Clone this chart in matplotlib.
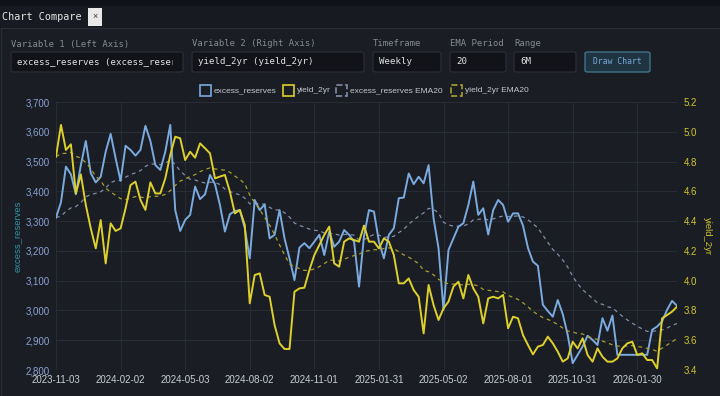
import pandas as pd
import matplotlib.pyplot as plt
from matplotlib.patches import Rectangle, FancyBboxPatch

# weekly values
start_date = "2023-11-03"
excess_reserves = [
    3312, 3363, 3483, 3457, 3390, 3488, 3569, 3461, 3430, 3449,
    3533, 3593, 3511, 3435, 3553, 3539, 3520, 3539, 3620, 3569,
    3488, 3472, 3533, 3623, 3337, 3267, 3304, 3321, 3416, 3374,
    3390, 3455, 3424, 3354, 3265, 3323, 3334, 3337, 3276, 3175,
    3371, 3337, 3356, 3242, 3254, 3337, 3242, 3175, 3102, 3211,
    3226, 3209, 3231, 3254, 3186, 3265, 3214, 3231, 3270, 3254,
    3231, 3080, 3250, 3337, 3332, 3231, 3175, 3254, 3276, 3377,
    3379, 3460, 3424, 3449, 3427, 3488, 3309, 3209, 3002, 3203,
    3242, 3281, 3293, 3354, 3433, 3321, 3343, 3255, 3337, 3371,
    3354, 3298, 3326, 3326, 3285, 3210, 3164, 3150, 3019, 2998,
    2979, 3035, 2988, 2918, 2823, 2851, 2879, 2915, 2901, 2884,
    2974, 2932, 2983, 2851, 2851, 2851, 2851, 2851, 2851, 2851,
    2935, 2946, 2963, 3002, 3032, 3016,
]
yield_2yr = [
    4.833, 5.046, 4.878, 4.916, 4.586, 4.714, 4.508, 4.351, 4.217, 4.407,
    4.116, 4.385, 4.334, 4.351, 4.486, 4.642, 4.665, 4.542, 4.475, 4.660,
    4.586, 4.586, 4.687, 4.844, 4.967, 4.956, 4.810, 4.866, 4.826, 4.922,
    4.889, 4.855, 4.687, 4.699, 4.710, 4.598, 4.452, 4.475, 4.374, 3.848,
    4.038, 4.049, 3.904, 3.892, 3.702, 3.579, 3.541, 3.541, 3.926, 3.948,
    3.953, 4.071, 4.172, 4.239, 4.307, 4.363, 4.116, 4.094, 4.262, 4.284,
    4.273, 4.262, 4.370, 4.262, 4.262, 4.217, 4.284, 4.262, 4.172, 3.982,
    3.982, 4.015, 3.937, 3.892, 3.646, 3.971, 3.836, 3.736, 3.814, 3.859,
    3.960, 3.993, 3.881, 4.038, 3.948, 3.892, 3.713, 3.881, 3.892, 3.881,
    3.904, 3.680, 3.758, 3.747, 3.635, 3.568, 3.505, 3.557, 3.568, 3.624,
    3.579, 3.523, 3.456, 3.478, 3.590, 3.545, 3.613, 3.501, 3.456, 3.545,
    3.489, 3.456, 3.456, 3.478, 3.545, 3.579, 3.590, 3.501, 3.512, 3.467,
    3.467, 3.411, 3.747, 3.769, 3.792, 3.825,
]
ema_period = 20
left_ticks = [2800, 2900, 3000, 3100, 3200, 3300, 3400, 3500, 3600, 3700]
right_ticks = [3.4, 3.6, 3.8, 4.0, 4.2, 4.4, 4.6, 4.8, 5.0, 5.2]

dates = pd.date_range(start_date, periods=len(excess_reserves), freq="7D")
df = pd.DataFrame({"excess_reserves": excess_reserves, "yield_2yr": yield_2yr}, index=dates)
ema_res = df["excess_reserves"].ewm(span=ema_period, adjust=False).mean()
ema_yld = df["yield_2yr"].ewm(span=ema_period, adjust=False).mean()

W, H = 720, 396
BG = "#1a1d24"
BLUE = "#7aaade"
YELLOW = "#ddd02c"
MONO = "DejaVu Sans Mono"
SANS = "Liberation Sans"

fig = plt.figure(figsize=(W / 100, H / 100), dpi=100, facecolor=BG)


def box(x, y, w, h, fc, ec="none", lw=0.8, rounded=False, z=1):
    # pixel coords measured from the top-left corner
    if rounded:
        p = FancyBboxPatch((x / W, 1 - (y + h) / H), w / W, h / H,
                           boxstyle="round,pad=0,rounding_size=0.004",
                           transform=fig.transFigure, fc=fc, ec=ec, lw=lw, zorder=z)
    else:
        p = Rectangle((x / W, 1 - (y + h) / H), w / W, h / H,
                      transform=fig.transFigure, fc=fc, ec=ec, lw=lw, zorder=z)
    fig.add_artist(p)
    return p


def label(x, y, s, **kw):
    return fig.text(x / W, 1 - y / H, s, va="center", **kw)


# window chrome (drawn behind the axes)
box(0, 0, W, 6, "#0f1217", z=-5)
box(0, 6, W, 22, "#171a20", z=-5)
box(1, 28, W + 2, H, BG, ec="#2a2e36", z=-5)
label(2, 17, "Chart Compare", family=MONO, fontsize=7.3, color="#e6e6e6")
box(88, 8, 14, 18, "#e8e8e8")
label(95, 17, "×", family=SANS, fontsize=6.5, color="#333333", ha="center")

# control row
controls = [
    (11, 172, "Variable 1 (Left Axis)", "excess_reserves (excess_reserves)"),
    (192, 172, "Variable 2 (Right Axis)", "yield_2yr (yield_2yr)"),
    (373, 68, "Timeframe", "Weekly"),
    (450, 56, "EMA Period", "20"),
    (514, 62, "Range", "6M"),
]
for x, w, title, value in controls:
    label(x, 44, title, family=MONO, fontsize=6.4, color="#858a94")
    box(x, 52, w, 20, "#111318", ec="#2c3038", rounded=True)
    t = label(x + 6, 62, value, family=MONO, fontsize=6.6, color="#e2e2e2")
    t.set_clip_path(Rectangle((x / W, 1 - 72 / H), (w - 10) / W, 20 / H,
                              transform=fig.transFigure))
box(585, 52, 65, 20, "#1e3440", ec="#3f7488", lw=1.0, rounded=True)
label(617.5, 62, "Draw Chart", family=MONO, fontsize=5.8, color="#7aa8dc", ha="center")

# legend
legend_items = [
    (200, "excess_reserves", BLUE, "-"),
    (283, "yield_2yr", YELLOW, "-"),
    (336, "excess_reserves EMA20", "#7f8ea8", "--"),
    (451, "yield_2yr EMA20", "#a89e30", "--"),
]
for x, name, col, ls in legend_items:
    p = box(x, 85, 11, 11, "none", ec=col, lw=1.2)
    p.set_linestyle(ls)
    label(x + 14, 91, name, family=SANS, fontsize=6.0, color="#c4c7cc")

# chart
ax = fig.add_axes([56 / W, 26 / H, 621 / W, 268 / H])
ax.set_facecolor(BG)
ax2 = ax.twinx()

ax.plot(df.index, ema_res, color="#7f8ea8", lw=0.9, ls=(0, (3, 3)))
ax2.plot(df.index, ema_yld, color="#a89e30", lw=0.9, ls=(0, (3, 3)))
ax.plot(df.index, df["excess_reserves"], color=BLUE, lw=1.4)
ax2.plot(df.index, df["yield_2yr"], color=YELLOW, lw=1.4)

ax.set_xlim(df.index[0], df.index[-1])
ax.set_ylim(2800, 3700)
ax2.set_ylim(3.4, 5.2)
ax.set_yticks(left_ticks)
ax.set_yticklabels([f"{v:,}" for v in left_ticks])
ax2.set_yticks(right_ticks)
ax2.set_yticklabels([f"{v:.1f}" for v in right_ticks])
xt = df.index[::13]
ax.set_xticks(xt)
ax.set_xticklabels([d.strftime("%Y-%m-%d") for d in xt])

ax.grid(True, color="#272b34", lw=0.8)
for a in (ax, ax2):
    for s in a.spines.values():
        s.set_visible(False)
ax.tick_params(axis="y", length=0, pad=4.5, labelsize=7, labelcolor="#8aa2d2")
ax.tick_params(axis="x", length=0, pad=3.5, labelsize=7, labelcolor="#c8ccd4")
ax2.tick_params(axis="y", length=0, pad=5, labelsize=7, labelcolor="#cfc62c")
for t in ax.get_xticklabels() + ax.get_yticklabels() + ax2.get_yticklabels():
    t.set_family(SANS)

label(17, 236, "excess_reserves", family=SANS, fontsize=6.8, color="#2f95a6",
      rotation=90, ha="center")
label(707, 236, "yield_2yr", family=SANS, fontsize=6.8, color="#cfc62c",
      rotation=270, ha="center")

fig.savefig("out.png", dpi=100, facecolor=BG)
